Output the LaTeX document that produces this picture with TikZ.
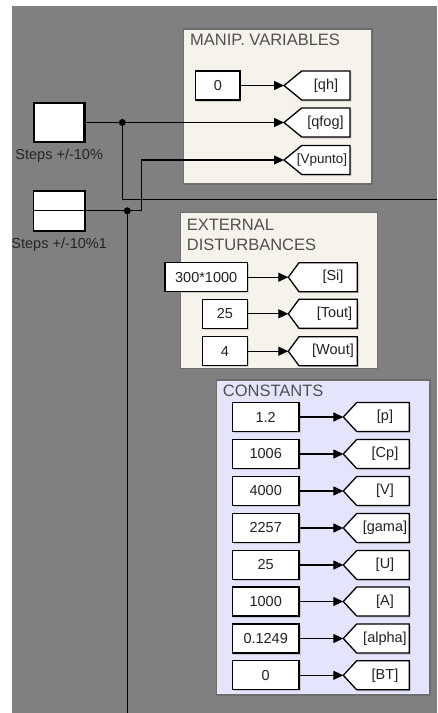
\documentclass[tikz,border=0pt]{standalone}
\usepackage{fontspec}
\setmainfont{Liberation Sans}
\usetikzlibrary{arrows.meta,shadows}
\definecolor{bggray}{HTML}{808080}
\definecolor{panelbeige}{HTML}{F6F2EC}
\definecolor{panellav}{HTML}{E4E4FC}
\definecolor{paneledge}{HTML}{6E6E6E}
\definecolor{titlegray}{HTML}{505050}
\definecolor{blktext}{HTML}{222222}
\tikzset{
 panel/.style={draw=paneledge, line width=1.2pt},
 paneltitle/.style={anchor=base west, inner sep=0, text=titlegray, font=\fontsize{16.5}{18}\selectfont},
 blkshadow/.style={drop shadow={shadow xshift=1.5pt,shadow yshift=-1.5pt,opacity=0.3}},
 constblk/.style={draw=black, line width=1.3pt, fill=white, inner sep=0, minimum height=29pt, text=blktext, font=\fontsize{14.5}{16}\selectfont, blkshadow},
 gotoline/.style={draw=black, line width=1.3pt, fill=white, line join=miter, blkshadow},
 gototext/.style={inner sep=0, text=blktext, font=\fontsize{14.5}{16}\selectfont},
 sig/.style={draw=black, line width=1.3pt, -{Triangle[length=10pt,width=9pt]}},
 wire/.style={draw=black, line width=1.3pt},
 junction/.style={circle, fill=black, inner sep=0, minimum size=7pt},
 steplabel/.style={anchor=base, inner sep=0, text=black!85, font=\fontsize{14.5}{16}\selectfont},
}
% #1 name, #2 tip x, #3 corner x, #4 right x, #5 centre y, #6 text, #7 text x
\newcommand{\gotob}[7]{%
 \coordinate (#1) at (#2,#5);
 \path[gotoline] (#1) -- (#3,#5-14.5) -- (#4,#5-14.5) -- (#4,#5+14.5) -- (#3,#5+14.5) -- cycle;
 \node[gototext] (#1t) at (#7,#5) {#6};}
\begin{document}
\begin{tikzpicture}[x=1pt,y=-1pt]
\useasboundingbox (0,0) rectangle (437,713);
\fill[white] (0,0) rectangle (437,713);
\fill[bggray] (12,6) rectangle (437,713);

% panels
\filldraw[panel, fill=panelbeige] (183.3,29) rectangle (372,184);
\node[paneltitle] (tman) at (190,45.5) {MANIP. VARIABLES};
\filldraw[panel, fill=panelbeige] (180.7,212.7) rectangle (377.3,368.3);
\node[paneltitle] (text1) at (186.7,230) {EXTERNAL};
\node[paneltitle] (text2) at (186.7,250) {DISTURBANCES};
\filldraw[panel, fill=panellav] (216.7,380) rectangle (430,695);
\node[paneltitle] (tcon) at (222.7,396) {CONSTANTS};

% step blocks
\node[draw=black, line width=2.6pt, fill=white, minimum width=50.4pt, minimum height=39pt, inner sep=0, blkshadow] (s1) at (59.2,122.5) {};
\node[steplabel] (s1l) at (59.2,159.5) {Steps +/-10\%};
\node[draw=black, line width=1.6pt, fill=white, minimum width=51.4pt, minimum height=40pt, inner sep=0, blkshadow] (s2) at (59.2,210.8) {};
\draw[line width=1.3pt] (s2.west) -- (s2.east);
\node[steplabel] (s2l) at (59.2,248) {Steps +/-10\%1};

% manip variables
\node[constblk, minimum width=44.3pt] (cqh) at (217.8,85.5) {0};
\gotob{gqh}{284}{301.7}{350}{85.5}{[qh]}{326}
\gotob{gqfog}{284}{301.7}{350}{122.5}{[qfog]}{325.5}
\gotob{gvp}{284}{301.7}{350}{160}{\fontsize{13.5}{15}\selectfont[Vpunto]}{322}

% external disturbances
\node[constblk, minimum width=82.3pt] (csi) at (206.2,277.2) {300*1000};
\node[constblk, minimum width=44.6pt] (ctout) at (225,313.8) {25};
\node[constblk, minimum width=44.6pt] (cwout) at (225,351.2) {4};
\gotob{gsi}{288.3}{299}{357.3}{277.2}{[Si]}{333}
\gotob{gtout}{288.3}{299}{357.3}{313.8}{[Tout]}{334.5}
\gotob{gwout}{288.3}{299}{357.3}{351.2}{[Wout]}{333}

% constants
\foreach \nm/\val/\tag/\yy in {p/1.2/[p]/417, cp/1006/[Cp]/454, v/4000/[V]/491, gama/2257/[gama]/528, u/25/[U]/565, a/1000/[A]/601.5, alpha/0.1249/[alpha]/638.5, bt/0/[BT]/675.3}{
 \node[constblk, minimum width=66.7pt] (c\nm) at (265.7,\yy) {\val};
 \gotob{g\nm}{343.3}{356.7}{409.3}{\yy}{\tag}{385}
 \draw[sig] (c\nm) -- (g\nm);
}

% connectors
\draw[sig] (cqh) -- (gqh);
\draw[sig] (csi) -- (gsi);
\draw[sig] (ctout) -- (gtout);
\draw[sig] (cwout) -- (gwout);

\node[junction] (j1) at (122.3,122.5) {};
\node[junction] (j2) at (127.3,210.8) {};
\coordinate (bend1) at (122.3,199.3);
\coordinate (exitR) at (437,199.3);
\coordinate (bend2a) at (141.7,210.8);
\coordinate (bend2b) at (141.7,160);
\coordinate (bottomend) at (127.3,713);
\draw[sig] (s1.east) -- (j1.center) -- (gqfog);
\draw[wire] (j1.center) -- (bend1) -- (exitR);
\draw[sig] (s2.east) -- (bend2a) -- (bend2b) -- (gvp);
\draw[wire] (j2.center) -- (bottomend);
\end{tikzpicture}
\end{document}
